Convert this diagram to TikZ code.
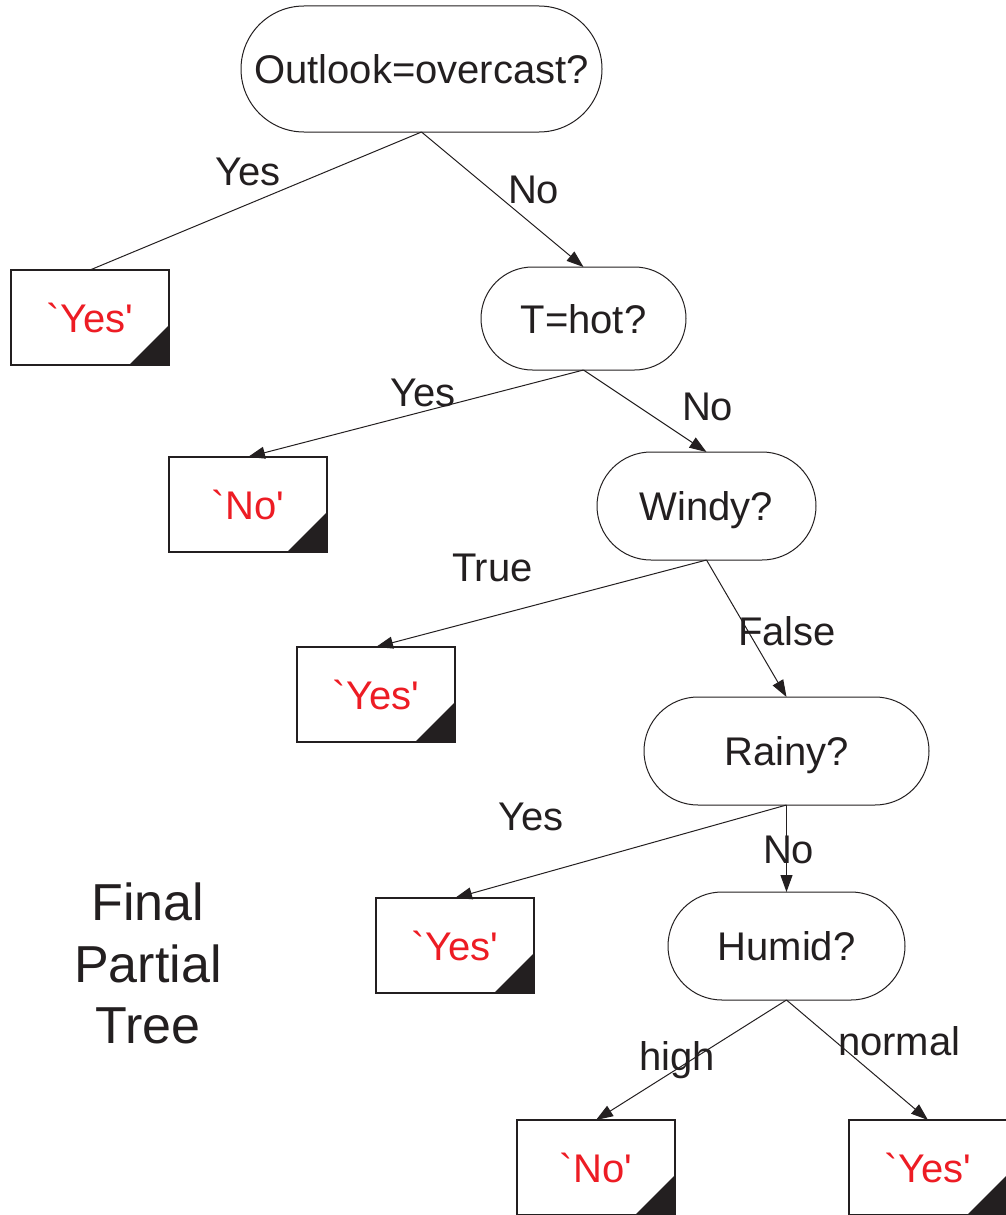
\documentclass[tikz,border=0pt]{standalone}
\usepackage{fontspec}
\setmainfont{Liberation Sans}[Ligatures=TeXOff]
\usetikzlibrary{arrows.meta,shapes.misc}
\definecolor{ink}{HTML}{231F20}
\definecolor{leafred}{HTML}{ED1C24}
\begin{document}
\begin{tikzpicture}[x=1pt,y=-1pt,
  every node/.style={inner sep=0pt,outer sep=0pt,text=ink},
  txt/.style={font=\fontsize{40}{48}\selectfont},
  decision/.style={rounded rectangle,draw=ink,line width=1pt,fill=white,txt,
    text height=29pt,text depth=0pt},
  leaf/.style={rectangle,draw=ink,line width=1.1pt,fill=white,
    minimum width=158pt,minimum height=95pt,txt,text=leafred,
    text height=29pt,text depth=0pt,
    path picture={\fill[ink] (path picture bounding box.south east)
      -- ++(-40pt,0pt) -- ++(40pt,40pt) -- cycle;}},
  branch/.style={draw=ink,line width=1pt},
  arrow/.style={branch,-{Triangle[length=17pt,width=12pt]}},
  lbl/.style={txt,anchor=base west},
  title/.style={font=\fontsize{52}{62}\selectfont,anchor=base}]
\useasboundingbox (0,0) rectangle (1005,1215);

% decision nodes
\node[decision,minimum width=361pt,minimum height=126pt] (outlook) at (421.5,69) {Outlook=overcast?};
\node[decision,minimum width=205pt,minimum height=103pt] (thot) at (583.5,318.5) {T=hot?};
\node[decision,minimum width=219pt,minimum height=108pt] (windy) at (706.5,506) {Windy?};
\node[decision,minimum width=285pt,minimum height=108pt] (rainy) at (786.5,751) {Rainy?};
\node[decision,minimum width=237pt,minimum height=108pt] (humid) at (786.5,946) {Humid?};

% leaves
\node[leaf] (yesA) at (90,317.5) {`Yes'};
\node[leaf] (noA) at (248,504.5) {`No'};
\node[leaf] (yesB) at (376,694.5) {`Yes'};
\node[leaf] (yesC) at (455,945.5) {`Yes'};
\node[leaf] (noB) at (596,1167.5) {`No'};
\node[leaf] (yesD) at (928,1167.5) {`Yes'};

% branches
\draw[branch] (outlook.south) -- (yesA.north);
\draw[arrow] (outlook.south) -- (thot.north);
\draw[arrow] (thot.south) -- (noA.north);
\draw[arrow] (thot.south) -- (windy.north);
\draw[arrow] (windy.south) -- (yesB.north);
\draw[arrow] (windy.south) -- (rainy.north);
\draw[arrow] (rainy.south) -- (yesC.north);
\draw[arrow] (rainy.south) -- (humid.north);
\draw[arrow] (humid.south) -- (noB.north);
\draw[arrow] (humid.south) -- (yesD.north);

% branch labels
\node[lbl] (l1) at (215,185) {Yes};
\node[lbl] (l2) at (508,203) {No};
\node[lbl] (l3) at (390,406) {Yes};
\node[lbl] (l4) at (682,420) {No};
\node[lbl] (l5) at (452,581) {True};
\node[lbl] (l6) at (738,645) {False};
\node[lbl] (l7) at (498,830) {Yes};
\node[lbl] (l8) at (763,863) {No};
\node[lbl] (l9) at (639,1070) {high};
\node[lbl] (l10) at (838,1055) {normal};

% caption
\node[title] (t1) at (148,920) {Final};
\node[title] (t2) at (148,982) {Partial};
\node[title] (t3) at (148,1043) {Tree};
\end{tikzpicture}
\end{document}
